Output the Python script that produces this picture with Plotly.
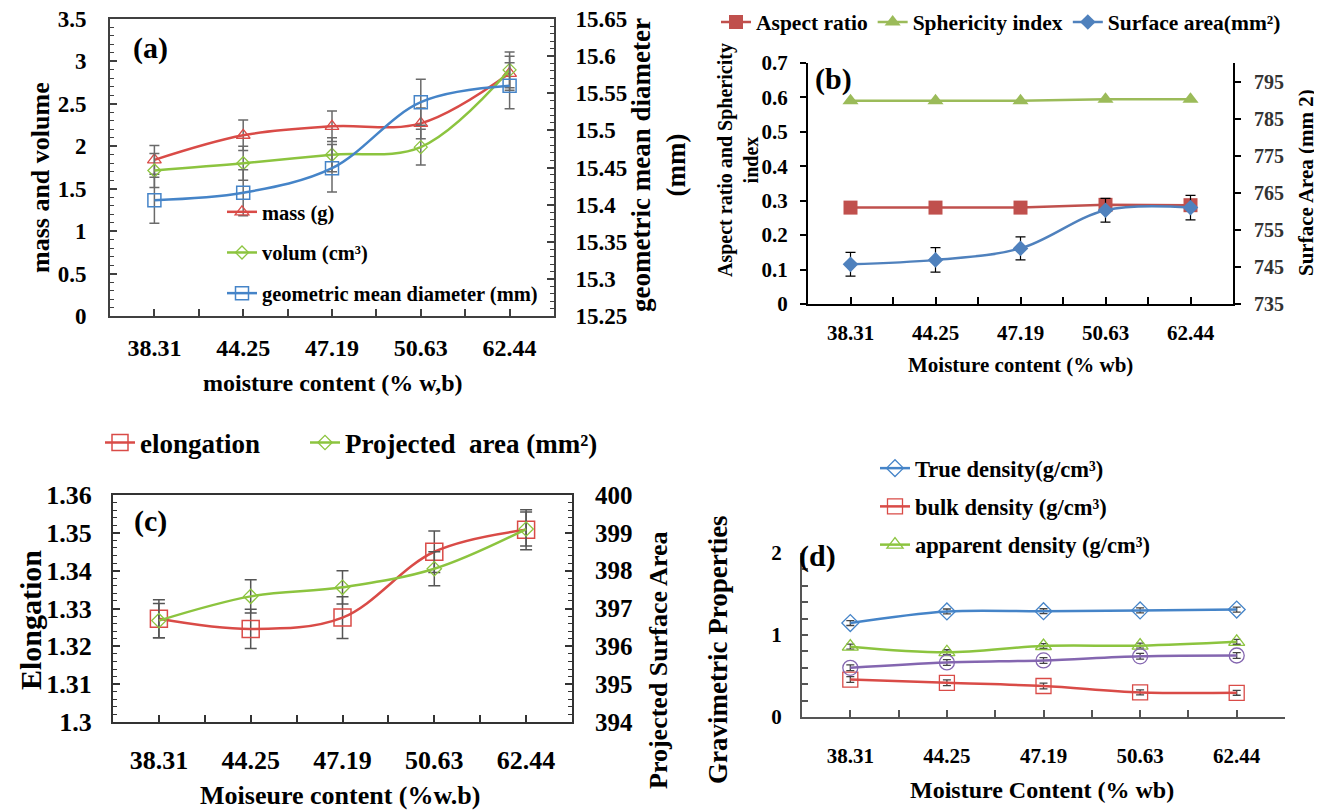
import plotly.graph_objects as go

# ---------------- data ----------------
moisture = ["38.31", "44.25", "47.19", "50.63", "62.44"]

# (a)
mass = [1.84, 2.13, 2.235, 2.27, 2.86]
mass_err = [0.17, 0.18, 0.18, 0.18, 0.20]
volume = [1.715, 1.80, 1.90, 1.99, 2.90]
volume_err = [0.20, 0.20, 0.20, 0.21, 0.21]
gmd = [15.406, 15.416, 15.449, 15.538, 15.560]
gmd_err = [0.031, 0.031, 0.032, 0.031, 0.031]

# (b)
aspect = [0.28, 0.28, 0.28, 0.288, 0.287]
spher = [0.590, 0.590, 0.590, 0.595, 0.595]
surface = [745.7, 746.9, 750.0, 760.3, 761.0]
surface_err = [3.2, 3.3, 3.1, 3.2, 3.3]

# (c)
elong = [1.3273, 1.3246, 1.3276, 1.3450, 1.3508]
elong_err = [0.0050, 0.0052, 0.0055, 0.0055, 0.0053]
proj = [396.68, 397.32, 397.56, 398.05, 399.10]
proj_err = [0.45, 0.44, 0.44, 0.45, 0.45]

# (d)
true_d = [1.146, 1.287, 1.290, 1.300, 1.310]
bulk_d = [0.457, 0.417, 0.378, 0.300, 0.295]
app_d = [0.858, 0.790, 0.866, 0.870, 0.917]
other_d = [0.600, 0.665, 0.690, 0.740, 0.750]
true_err = [0.03, 0.03, 0.03, 0.03, 0.03]
bulk_err = [0.035, 0.035, 0.035, 0.03, 0.03]
app_err = [0.03, 0.03, 0.03, 0.03, 0.03]
other_err = [0.035, 0.035, 0.035, 0.035, 0.035]

pos = list(range(len(moisture)))
bounds = [p + 0.5 for p in pos[:-1]]

# ---------------- style ----------------
W, H = 1322, 812
OFF = 8  # page body margin of the html page
FONT = "Liberation Serif, Times New Roman, serif"
RED = "#D94B47"
GREEN = "#8CC43F"
BLUE = "#4584C8"
PURPLE = "#8466B0"
RED_B = "#C0504D"
GREEN_B = "#9BBB59"
BLUE_B = "#4F81BD"


def px(v):
    return (v - OFF) / W


def py(v):
    return 1 - (v - OFF) / H


def f(size, bold=True, color="black"):
    d = dict(family=FONT, size=size, color=color)
    if bold:
        d["weight"] = "bold"
    return d


def xax(x0, x1, anchor, fs, standoff, lc, mirror):
    return dict(domain=[px(x0), px(x1)], anchor=anchor, range=[-0.5, len(moisture) - 0.5],
                tickmode="array", tickvals=pos, ticktext=moisture,
                ticks="inside", ticklen=7, tickwidth=1.5, tickcolor=lc,
                minor=dict(tickmode="array", tickvals=bounds, ticks="inside", ticklen=7,
                           tickwidth=1.5, tickcolor=lc),
                showline=True, linecolor=lc, linewidth=2, mirror=mirror,
                showgrid=False, zeroline=False, tickfont=f(fs), ticklabelstandoff=standoff,
                ticklabeloverflow="allow")


fig = go.Figure()

ebA = dict(color="#6a6a6a", thickness=1.5, width=5)

# ---- panel (a)
fig.add_trace(go.Scatter(x=pos, y=mass, name="mass (g)", mode="lines+markers",
                         line=dict(color=RED, width=2.5, shape="spline", smoothing=1),
                         marker=dict(symbol="triangle-up-open", size=12, color=RED, line=dict(width=1.3)),
                         error_y=dict(type="data", array=mass_err, **ebA),
                         xaxis="x", yaxis="y", legend="legend", legendgroup="a1"))
fig.add_trace(go.Scatter(x=pos, y=volume, name="volum (cm³)", mode="lines+markers",
                         line=dict(color=GREEN, width=2.5, shape="spline", smoothing=1),
                         marker=dict(symbol="diamond-open", size=10, color=GREEN, line=dict(width=1.3)),
                         error_y=dict(type="data", array=volume_err, **ebA),
                         xaxis="x", yaxis="y", legend="legend", legendgroup="a2"))
fig.add_trace(go.Scatter(x=pos, y=gmd, name="geometric mean diameter (mm)", mode="lines+markers",
                         line=dict(color=BLUE, width=2.5, shape="spline", smoothing=1),
                         marker=dict(symbol="square-open", size=13, color=BLUE, line=dict(width=1.5)),
                         error_y=dict(type="data", array=gmd_err, **ebA),
                         xaxis="x", yaxis="y2", legend="legend", legendgroup="a3"))

# ---- panel (b)
fig.add_trace(go.Scatter(x=pos, y=aspect, name="Aspect ratio", mode="lines+markers",
                         line=dict(color=RED_B, width=2.5),
                         marker=dict(symbol="square", size=14, color=RED_B),
                         xaxis="x3", yaxis="y3", legend="legend2"))
fig.add_trace(go.Scatter(x=pos, y=spher, name="Sphericity index", mode="lines+markers",
                         line=dict(color=GREEN_B, width=2.5),
                         marker=dict(symbol="triangle-up", size=14, color=GREEN_B),
                         xaxis="x3", yaxis="y3", legend="legend2"))
fig.add_trace(go.Scatter(x=pos, y=surface, name="Surface area(mm²)", mode="lines+markers",
                         line=dict(color=BLUE_B, width=2.5, shape="spline", smoothing=1),
                         marker=dict(symbol="diamond", size=12, color=BLUE_B),
                         error_y=dict(type="data", array=surface_err, color="black", thickness=1.2, width=5),
                         xaxis="x3", yaxis="y4", legend="legend2"))

# ---- panel (c)
ebC = dict(color="#555555", thickness=1.5, width=6)
fig.add_trace(go.Scatter(x=pos, y=elong, name="elongation", mode="lines+markers",
                         line=dict(color=RED, width=2.5, shape="spline", smoothing=1),
                         marker=dict(symbol="square-open", size=17, color=RED, line=dict(width=1.5)),
                         error_y=dict(type="data", array=elong_err, **ebC),
                         xaxis="x5", yaxis="y5", legend="legend3"))
fig.add_trace(go.Scatter(x=pos, y=proj, name="Projected\u00a0 area (mm²)", mode="lines+markers",
                         line=dict(color=GREEN, width=2.5, shape="spline", smoothing=1),
                         marker=dict(symbol="diamond-open", size=11, color=GREEN, line=dict(width=1.3)),
                         error_y=dict(type="data", array=proj_err, **ebC),
                         xaxis="x5", yaxis="y6", legend="legend5"))

# ---- panel (d)
ebD = dict(color="#444444", thickness=1.3, width=4)
fig.add_trace(go.Scatter(x=pos, y=true_d, name="True density(g/cm³)", mode="lines+markers",
                         line=dict(color=BLUE, width=2.5, shape="spline", smoothing=1),
                         marker=dict(symbol="diamond-open", size=13, color=BLUE, line=dict(width=1.3)),
                         error_y=dict(type="data", array=true_err, **ebD),
                         xaxis="x7", yaxis="y7", legend="legend4", legendgroup="d1"))
fig.add_trace(go.Scatter(x=pos, y=bulk_d, name="bulk density (g/cm³)", mode="lines+markers",
                         line=dict(color=RED, width=2.5, shape="spline", smoothing=1),
                         marker=dict(symbol="square-open", size=15, color=RED, line=dict(width=1.3)),
                         error_y=dict(type="data", array=bulk_err, **ebD),
                         xaxis="x7", yaxis="y7", legend="legend4", legendgroup="d2"))
fig.add_trace(go.Scatter(x=pos, y=app_d, name="apparent density (g/cm³)", mode="lines+markers",
                         line=dict(color=GREEN, width=2.5, shape="spline", smoothing=1),
                         marker=dict(symbol="triangle-up-open", size=14, color=GREEN, line=dict(width=1.3)),
                         error_y=dict(type="data", array=app_err, **ebD),
                         xaxis="x7", yaxis="y7", legend="legend4", legendgroup="d3"))
fig.add_trace(go.Scatter(x=pos, y=other_d, name="porosity", mode="lines+markers", showlegend=False,
                         line=dict(color=PURPLE, width=2.5, shape="spline", smoothing=1),
                         marker=dict(symbol="circle-open", size=15, color=PURPLE, line=dict(width=1.3)),
                         error_y=dict(type="data", array=other_err, **ebD),
                         xaxis="x7", yaxis="y7"))

# ---------------- axes ----------------
LA = "#404040"
layout = dict(
    width=W, height=H, margin=dict(l=0, r=0, t=0, b=0, autoexpand=False),
    paper_bgcolor="white", plot_bgcolor="rgba(0,0,0,0)",
    font=f(16),
)
# (a)
layout["xaxis"] = xax(110, 554, "y", 24, 9, LA, True)
layout["yaxis"] = dict(domain=[py(316), py(19)], anchor="x", range=[0, 3.5], tick0=0, dtick=0.5,
                       ticks="inside", ticklen=7, tickwidth=1.5, tickcolor=LA,
                       minor=dict(dtick=0.1, ticks="inside", ticklen=4, tickcolor=LA, tickwidth=1.2),
                       showline=True, linecolor=LA, linewidth=2, mirror=True,
                       showgrid=False, zeroline=False, tickfont=f(23), ticklabelstandoff=17,
                       ticklabeloverflow="allow")
layout["yaxis2"] = dict(overlaying="y", side="right", anchor="x", range=[15.25, 15.65], tick0=15.25, dtick=0.05,
                        ticks="inside", ticklen=7, tickwidth=1.5, tickcolor=LA,
                        minor=dict(dtick=0.01, ticks="inside", ticklen=4, tickcolor=LA, tickwidth=1.2),
                        showline=True, linecolor=LA, linewidth=2,
                        showgrid=False, zeroline=False, tickfont=f(23), ticklabelstandoff=15,
                        ticklabeloverflow="allow")
# (b)
LB = "black"
layout["xaxis3"] = xax(808, 1233, "y3", 21, 9, LB, False)
layout["yaxis3"] = dict(domain=[py(304), py(63)], anchor="x3", range=[0, 0.7], tick0=0, dtick=0.1,
                        ticks="outside", ticklen=6, tickwidth=1.5, tickcolor=LB,
                        showline=True, linecolor=LB, linewidth=2,
                        showgrid=False, zeroline=False, tickfont=f(21), ticklabelstandoff=8,
                        ticklabeloverflow="allow")
layout["yaxis4"] = dict(overlaying="y3", side="right", anchor="x3", range=[735, 800], tick0=735, dtick=10,
                        ticks="outside", ticklen=6, tickwidth=1.5, tickcolor=LB,
                        showline=True, linecolor=LB, linewidth=2,
                        showgrid=False, zeroline=False, tickfont=f(20, bold=False, color="#333"),
                        ticklabelstandoff=9, ticklabeloverflow="allow")
# (c)
LC = "#333333"
layout["xaxis5"] = xax(113, 572, "y5", 26, 14, LC, True)
layout["yaxis5"] = dict(domain=[py(722), py(495)], anchor="x5", range=[1.3, 1.36], tick0=1.3, dtick=0.01,
                        ticks="inside", ticklen=7, tickwidth=1.5, tickcolor=LC,
                        minor=dict(dtick=0.002, ticks="inside", ticklen=4, tickcolor=LC, tickwidth=1.2),
                        showline=True, linecolor=LC, linewidth=2, mirror=True,
                        showgrid=False, zeroline=False, tickfont=f(26), ticklabelstandoff=14,
                        ticklabeloverflow="allow")
layout["yaxis6"] = dict(overlaying="y5", side="right", anchor="x5", range=[394, 400], tick0=394, dtick=1,
                        ticks="inside", ticklen=7, tickwidth=1.5, tickcolor=LC,
                        minor=dict(dtick=0.2, ticks="inside", ticklen=4, tickcolor=LC, tickwidth=1.2),
                        showline=True, linecolor=LC, linewidth=2,
                        showgrid=False, zeroline=False, tickfont=f(25), ticklabelstandoff=16,
                        ticklabeloverflow="allow")
# (d)
LD = "#555555"
layout["xaxis7"] = xax(802, 1285, "y7", 21, 19, LD, False)
layout["yaxis7"] = dict(domain=[py(717), py(553)], anchor="x7", range=[0, 2], tick0=0, dtick=1,
                        ticks="inside", ticklen=6, tickwidth=1.5, tickcolor=LD,
                        minor=dict(dtick=0.2, ticks="inside", ticklen=6, tickcolor=LD, tickwidth=1.5),
                        showline=True, linecolor=LD, linewidth=2,
                        showgrid=False, zeroline=False, tickfont=f(21), ticklabelstandoff=14,
                        ticklabeloverflow="allow")

# ---------------- legends ----------------
layout["legend"] = dict(x=px(222), y=py(192), xanchor="left", yanchor="top", orientation="v",
                        bgcolor="rgba(0,0,0,0)", font=f(20.5), tracegroupgap=11)
layout["legend2"] = dict(x=px(716), y=py(22), xanchor="left", yanchor="middle", orientation="h",
                         bgcolor="rgba(0,0,0,0)", font=f(21.5))
layout["legend3"] = dict(x=px(100), y=py(443), xanchor="left", yanchor="middle", orientation="h",
                         bgcolor="rgba(0,0,0,0)", font=f(27))
layout["legend5"] = dict(x=px(305), y=py(443), xanchor="left", yanchor="middle", orientation="h",
                         bgcolor="rgba(0,0,0,0)", font=f(27))
layout["legend4"] = dict(x=px(875), y=py(447), xanchor="left", yanchor="top", orientation="v",
                         bgcolor="rgba(0,0,0,0)", font=f(22.5), tracegroupgap=6)

fig.update_layout(**layout)


# ---------------- annotations ----------------
def ann(text, x, y, size, angle=0, bold=True, color="black"):
    fig.add_annotation(text=text, x=px(x), y=py(y), xref="paper", yref="paper",
                       showarrow=False, textangle=angle, font=f(size, bold, color),
                       xanchor="center", yanchor="middle")


ann("(a)", 150, 48, 30)
ann("(b)", 833, 79, 30)
ann("(c)", 150, 521, 30)
ann("(d)", 817, 556, 30)

ann("mass and volume", 40, 178, 26, -90)
ann("geometric mean diameter<br>(mm)", 658, 165, 27, -90)
ann("moisture content (% w,b)", 333, 383, 24)

ann("Aspect ratio and Sphericity<br>index", 738, 160, 20, -90)
ann("Surface Area (mm 2)", 1306, 183, 21, -90)
ann("Moisture content (% wb)", 1020, 365, 21)

ann("Elongation", 30, 620, 30, -90)
ann("Projected Surface Area", 658, 660, 26, -90)
ann("Moiseure content (%w.b)", 340, 795, 26)

ann("Gravimetric Properties", 718, 650, 27, -90)
ann("Moisture Content (% wb)", 1042, 790, 24)

fig.write_html("out.html")
